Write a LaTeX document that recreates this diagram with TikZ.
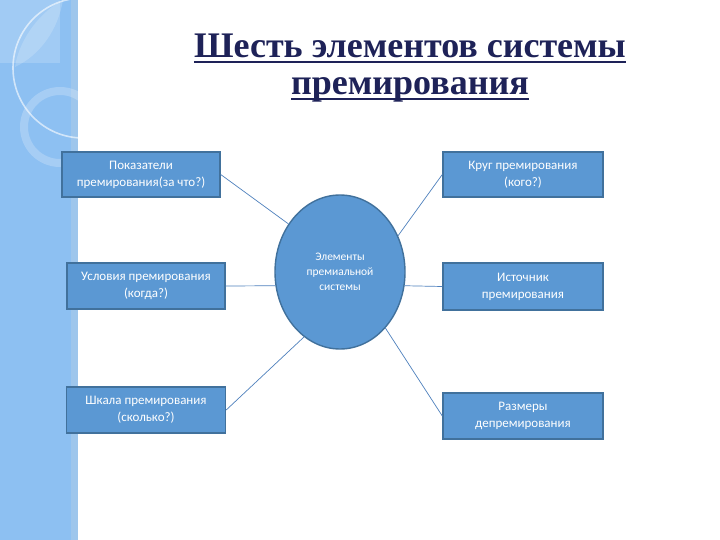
\documentclass[tikz,border=0pt]{standalone}
\usepackage{fontspec}
\setmainfont{Carlito}
\newfontfamily\titlefont{Liberation Serif}
\usetikzlibrary{shapes.geometric}
\definecolor{stripblue}{RGB}{141,192,242}
\definecolor{stripband}{RGB}{158,198,236}
\definecolor{boxfill}{RGB}{91,152,211}
\definecolor{boxline}{RGB}{65,113,156}
\definecolor{connblue}{RGB}{79,129,189}
\definecolor{titleblue}{RGB}{30,34,88}
\tikzset{
  titletext/.style={font=\titlefont\bfseries\fontsize{36}{40}\selectfont, text=titleblue, inner sep=0pt, anchor=base},
  ulinestyle/.style={titleblue, line width=2.6pt},
  elembox/.style={rectangle, draw=boxline, line width=1.4pt, fill=boxfill, text=white,
    font=\fontsize{13}{17}\selectfont, align=center, inner sep=0pt},
  centreell/.style={ellipse, draw=boxline, line width=1.4pt, fill=boxfill, text=white,
    font=\fontsize{11.5}{15}\selectfont, align=center, inner sep=0pt,
    minimum width=130pt, minimum height=154pt},
  conn/.style={draw=connblue, line width=0.7pt}
}
\begin{document}
\begin{tikzpicture}[x=1pt,y=-1pt]
\useasboundingbox (0,0) rectangle (720,540);
\fill[white] (0,0) rectangle (720,540);
% decorative left strip
\fill[stripblue] (0,0) rectangle (78,540);
\fill[stripband] (71,0) rectangle (78,540);
\begin{scope}
  \clip (0,0) rectangle (78,540);
  \fill[white,opacity=0.18] (0,0) rectangle (60,63);
  \fill[white,opacity=0.18] (63,0) .. controls (35,15) and (18,45) .. (15,67)
        .. controls (40,55) and (58,30) .. (63,0);
  \draw[white,opacity=0.6,line width=1.6pt] (83,68) circle[radius=70pt];
  \draw[white,opacity=0.22,line width=8pt] (60,127) circle[radius=36pt];
\end{scope}
% title
\node[titletext] (t1) at (410,58) {Шесть элементов системы};
\node[titletext] (t2) at (410,95) {премирования};
\draw[ulinestyle] ([yshift=-4pt]t1.base west) -- ([yshift=-4pt]t1.base east);
\draw[ulinestyle] ([yshift=-4pt]t2.base west) -- ([yshift=-4pt]t2.base east);
% centre
\node[centreell] (e) at (340,272) {Элементы\\премиальной\\системы};
% boxes
\node[elembox, minimum width=158pt, minimum height=45pt] (b1) at (141,174.5) {Показатели\\премирования(за что?)};
\node[elembox, minimum width=158pt, minimum height=46pt] (b2) at (146,286) {Условия премирования\\(когда?)};
\node[elembox, minimum width=159pt, minimum height=46pt] (b3) at (146,410) {Шкала премирования\\(сколько?)};
\node[elembox, minimum width=160pt, minimum height=45pt] (r1) at (523,174.5) {Круг премирования\\(кого?)};
\node[elembox, minimum width=160pt, minimum height=47pt] (r2) at (523,286.5) {Источник\\премирования};
\node[elembox, minimum width=160pt, minimum height=46pt] (r3) at (523,416) {Размеры\\депремирования};
% connectors
\draw[conn] (b1.east) -- (e.137);
\draw[conn] (b2.east) -- (e.192);
\draw[conn] (b3.east) -- (e.241);
\draw[conn] (r1.west) -- (e.32);
\draw[conn] (r2.west) -- (e.348);
\draw[conn] (r3.west) -- (e.309);
\end{tikzpicture}
\end{document}
